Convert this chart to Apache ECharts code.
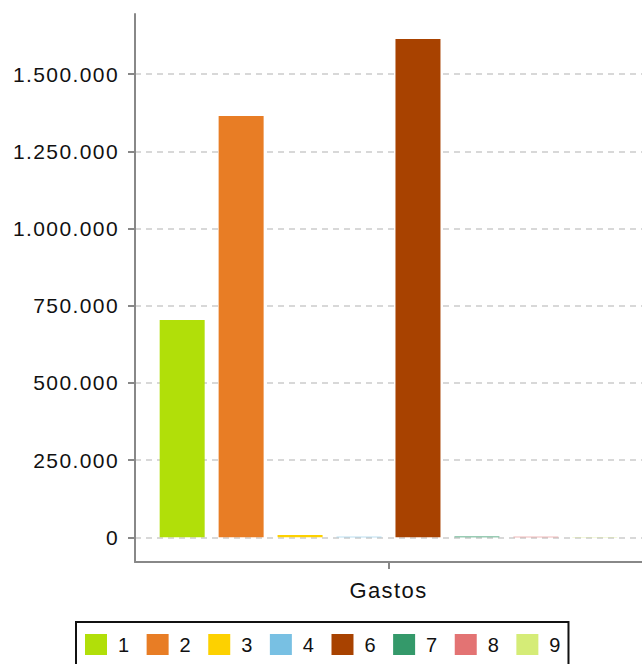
<!DOCTYPE html>
<html>
<head>
<meta charset="utf-8">
<script src="https://cdn.jsdelivr.net/npm/echarts@6/dist/echarts.min.js"></script>
<style>
html,body{margin:0;padding:0;background:#fff}
#c{width:642px;height:664px}
#c svg text{letter-spacing:1.4px}
</style>
</head>
<body>
<div id="c"></div>
<script>
var categories = ['Gastos'];
var seriesNames = ['1', '2', '3', '4', '6', '7', '8', '9'];
var seriesValues = [704000, 1365000, 7500, 1500, 1614000, 2500, 2000, 1000];
var seriesColors = ['#b1df09', '#e87d25', '#fdd100', '#78c0e3', '#a84200', '#34996a', '#e37373', '#d5ec77'];
var yTickValues = [0, 250000, 500000, 750000, 1000000, 1250000, 1500000];

var FONT = '"Liberation Sans", Arial, sans-serif';
function fmt(v) {
  return String(Math.round(v)).replace(/\B(?=(\d{3})+(?!\d))/g, '.');
}

var chart = echarts.init(document.getElementById('c'), null, {renderer: 'svg'});
var series = seriesNames.map(function (n, i) {
  return {
    name: n,
    type: 'bar',
    data: [seriesValues[i]],
    barWidth: 45,
    barGap: '31%',
    itemStyle: {color: seriesColors[i]},
    animation: false
  };
});
chart.setOption({
  animation: false,
  color: seriesColors,
  grid: {left: 135, right: 0, top: 14, bottom: 102, containLabel: false},
  xAxis: {
    type: 'category',
    data: categories,
    axisLine: {onZero: false, lineStyle: {color: '#888', width: 2}},
    axisTick: {show: true, alignWithLabel: true, length: 7, lineStyle: {color: '#888', width: 2}},
    axisLabel: {color: '#111', fontSize: 22, fontFamily: FONT, margin: 17}
  },
  yAxis: {
    type: 'value',
    min: -80000,
    max: 1695000,
    axisLine: {show: true, lineStyle: {color: '#888', width: 2}},
    axisTick: {show: true, length: 7, lineStyle: {color: '#888', width: 2}, customValues: yTickValues},
    axisLabel: {color: '#111', fontSize: 21, fontFamily: FONT, margin: 16, customValues: yTickValues,
      formatter: function (v) { return fmt(v); }},
    splitLine: {show: true, lineStyle: {color: '#ccc', type: [6, 5], width: 1.5}}
  },
  legend: {
    data: seriesNames,
    left: 76,
    top: 622,
    orient: 'horizontal',
    borderColor: '#111',
    borderWidth: 2,
    borderRadius: 0,
    padding: [12, 8, 12, 9],
    itemWidth: 22,
    itemHeight: 21,
    itemGap: 17.5,
    icon: 'rect',
    textStyle: {color: '#111', fontSize: 20, fontFamily: FONT, padding: [0, 0, 0, 6]},
    selectedMode: false
  },
  series: series
});
</script>
</body>
</html>
